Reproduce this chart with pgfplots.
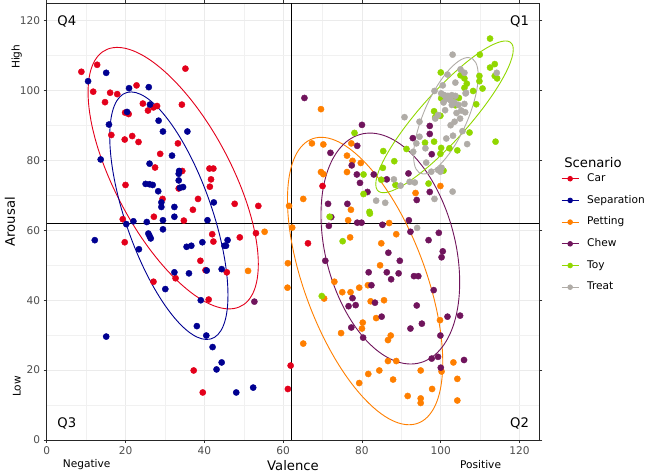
\documentclass[border=0pt]{standalone}
\usepackage{fontspec}
\setmainfont{DejaVu Sans}
\usepackage{pgfplots}
\pgfplotsset{compat=1.18}
\definecolor{carred}{RGB}{227,0,27}
\definecolor{sepblue}{RGB}{0,0,145}
\definecolor{petorange}{RGB}{255,127,0}
\definecolor{chewpurple}{RGB}{112,20,92}
\definecolor{toygreen}{RGB}{145,215,0}
\definecolor{treatgray}{RGB}{176,172,167}
\definecolor{gridgray}{RGB}{235,235,235}
\definecolor{ticktext}{RGB}{77,77,77}
\newcommand{\ellipseplot}[7]{\pgfplotsextra{\begin{pgfscope}\pgfsetstrokecolor{#1}\pgfsetlinewidth{0.9pt}\pgfpathellipse{\pgfplotspointaxisxy{#2}{#3}}{\pgfplotspointaxisdirectionxy{#4}{#5}}{\pgfplotspointaxisdirectionxy{#6}{#7}}\pgfusepath{stroke}\end{pgfscope}}}
\begin{document}
\begin{tikzpicture}
\useasboundingbox (-46.7pt,-33pt) rectangle (602.3pt,440pt);
\begin{axis}[
  scale only axis, width=492.6pt, height=436.7pt,
  xmin=0, xmax=125, ymin=0, ymax=125,
  xtick={0,20,...,120}, ytick={0,20,...,120},
  minor x tick num=1, minor y tick num=1,
  grid=both,
  major grid style={draw=gridgray, line width=0.7pt},
  minor grid style={draw=gridgray!70, line width=0.4pt},
  axis line style={draw=black!85, line width=0.6pt},
  tick style={draw=black!80, line width=0.6pt},
  tick align=outside, major tick length=3pt, minor tick length=0pt,
  /pgf/number format/assume math mode=true,
  ticklabel style={font=\fontsize{10.6}{12}\selectfont, text=ticktext},
  xlabel={Valence}, ylabel={Arousal},
  label style={font=\fontsize{13.2}{15}\selectfont},
  xlabel style={at={(axis description cs:0.5,-0.0595)}, anchor=center},
  ylabel style={at={(axis description cs:-0.0745,0.5)}, anchor=center},
  clip=false,
  legend cell align=left,
  legend style={at={(1.044,0.6125)}, anchor=north west, draw=none, fill=none,
    inner sep=0pt, row sep=9.7pt, font=\fontsize{10.6}{12}\selectfont,
    nodes={inner sep=1pt, text height=7.7pt, text depth=2.3pt},
    /tikz/every odd column/.append style={column sep=7pt}},
  mark size=3.1pt,
]
\addlegendimage{carred, line width=0.9pt, mark=*, mark size=2.3pt}
\addlegendentry{Car}
\addlegendimage{sepblue, line width=0.9pt, mark=*, mark size=2.3pt}
\addlegendentry{Separation}
\addlegendimage{petorange, line width=0.9pt, mark=*, mark size=2.3pt}
\addlegendentry{Petting}
\addlegendimage{chewpurple, line width=0.9pt, mark=*, mark size=2.3pt}
\addlegendentry{Chew}
\addlegendimage{toygreen, line width=0.9pt, mark=*, mark size=2.3pt}
\addlegendentry{Toy}
\addlegendimage{treatgray, line width=0.9pt, mark=*, mark size=2.3pt}
\addlegendentry{Treat}

\addplot[black, line width=1pt, forget plot] coordinates {(62,0) (62,125)};
\addplot[black, line width=1pt, forget plot] coordinates {(0,62) (125,62)};

% Car
\addplot[only marks, mark=*, carred, forget plot] coordinates {
(8.8,105.4) (12.8,107.4) (11.8,99.7) (16.1,99.4) (17.9,99.0) (14.8,96.7) (22.8,101.5) (35.2,106.3)
(24.4,96.3) (25.7,94.3) (27.1,95.2) (28.0,95.6) (34.3,96.0) (19.9,93.7) (20.8,93.3) (16.4,87.3)
(21.7,87.0) (19.8,86.0) (23.3,85.3) (33.3,84.9) (28.8,81.9) (27.5,78.0) (41.3,77.7) (42.3,77.7)
(34.4,77.0) (41.7,74.6) (41.4,72.5) (20.0,73.0) (33.5,72.0) (29.4,69.0) (38.4,69.0) (47.7,67.6)
(53.7,67.0) (37.1,65.9) (27.2,63.9) (19.3,63.2) (34.8,62.8) (70.0,72.7) (19.8,56.6) (42.0,58.9)
(42.3,56.8) (49.0,58.0) (53.1,59.2) (39.0,51.3) (40.3,48.6) (45.7,48.0) (27.1,45.3) (32.7,46.3)
(41.1,40.2) (37.3,19.9) (39.6,13.6) (61.9,21.3) (61.2,14.6) (66.3,56.3)
};
% Separation
\addplot[only marks, mark=*, sepblue, forget plot] coordinates {
(15.1,105.1) (10.5,102.7) (20.9,100.7) (25.9,101.0) (26.2,96.0) (20.4,93.9) (15.8,90.3) (28.4,91.4)
(29.5,88.3) (35.7,88.3) (31.8,81.4) (13.7,80.3) (26.1,79.1) (33.6,77.0) (33.5,76.2) (33.5,74.3)
(25.1,73.3) (26.1,73.2) (26.9,73.0) (33.8,72.2) (34.6,72.4) (28.3,71.2) (29.1,68.0) (29.1,66.7)
(32.4,66.7) (42.4,68.0) (32.4,63.9) (25.4,62.4) (29.5,62.9) (40.8,62.9) (22.0,62.6) (20.2,61.8)
(29.5,60.3) (12.2,57.2) (25.8,59.1) (26.1,58.4) (26.4,57.7) (23.4,54.6) (35.5,55.3) (36.7,55.6)
(39.5,56.6) (45.1,55.6) (45.5,55.6) (45.9,57.2) (32.4,48.0) (36.1,47.7) (40.6,48.5) (44.4,48.9)
(30.1,43.2) (39.1,40.0) (15.1,29.6) (38.1,32.6) (40.5,29.9) (42.1,26.6) (44.4,22.2) (43.1,20.2)
(48.1,13.6) (52.4,15.0)
};
% Petting
\addplot[only marks, mark=*, petorange, forget plot] coordinates {
(69.6,94.7) (67.3,84.9) (70.2,84.6) (77.3,84.9) (76.2,81.4) (77.6,79.9) (79.7,79.3) (69.6,76.7)
(70.2,76.1) (76.2,76.7) (65.1,69.0) (77.2,65.9) (61.5,67.0) (93.6,70.7) (99.9,72.7) (76.5,62.9)
(86.9,62.1) (62.3,60.8) (88.7,58.9) (77.0,58.0) (84.9,56.3) (61.2,50.6) (73.0,45.3) (84.6,50.0)
(61.1,43.6) (75.0,42.3) (77.1,42.3) (79.3,43.6) (81.5,44.3) (70.4,40.5) (82.2,39.7) (85.6,40.0)
(83.6,34.9) (80.2,33.6) (80.0,31.9) (74.7,30.6) (99.8,34.3) (87.3,29.9) (86.6,28.6) (65.1,27.6)
(86.6,22.6) (88.7,22.6) (84.4,19.9) (94.9,19.9) (81.6,18.9) (87.9,17.3) (100.2,19.6) (103.2,22.2)
(104.2,17.5) (79.3,16.3) (97.8,14.6) (91.6,12.6) (94.9,11.9) (94.9,10.6) (104.2,11.3) (55.3,59.6)
(51.1,48.4)
};
% Chew
\addplot[only marks, mark=*, chewpurple, forget plot] coordinates {
(65.4,97.9) (80.0,90.2) (78.8,84.2) (72.0,82.2) (97.2,89.9) (97.2,87.6) (92.9,86.4) (97.7,81.8)
(77.4,78.6) (78.7,76.0) (83.0,76.0) (79.5,73.6) (86.3,74.6) (91.8,76.3) (81.4,71.0) (97.2,71.0)
(93.9,68.7) (71.4,67.6) (76.3,67.6) (72.2,63.8) (78.8,62.2) (79.9,62.2) (85.2,61.6) (91.9,62.9)
(71.6,61.3) (92.3,59.6) (99.5,59.3) (96.9,57.2) (86.7,53.6) (100.5,54.0) (100.2,52.3) (70.7,51.3)
(89.6,51.3) (81.7,48.0) (86.3,48.0) (89.3,47.7) (87.4,46.0) (93.2,46.9) (94.3,46.9) (82.4,44.3)
(98.2,42.9) (77.6,40.6) (76.6,38.3) (78.4,38.6) (83.3,39.3) (93.9,38.5) (85.0,35.3) (101.7,35.3)
(104.9,35.6) (77.3,32.2) (80.3,29.3) (92.3,31.9) (95.2,33.3) (99.9,29.9) (97.7,23.3) (99.3,23.8)
(100.0,20.7) (105.9,22.9) (52.7,39.6)
};
% Toy
\addplot[only marks, mark=*, toygreen, forget plot] coordinates {
(112.5,114.9) (109.9,110.3) (113.7,107.6) (112.5,106.6) (113.7,104.2) (114.3,103.5) (100.0,105.2)
(105.0,104.4) (106.0,103.5) (109.8,104.2) (109.8,102.7) (106.6,102.0) (106.0,100.8) (108.2,99.9)
(110.6,100.6) (100.1,97.8) (103.7,98.2) (104.6,97.9) (103.7,95.8) (109.0,96.1) (98.3,94.1) (99.9,92.8)
(98.6,92.4) (107.3,88.0) (113.9,85.4) (98.3,85.4) (100.1,83.6) (96.0,85.1) (99.9,81.9) (104.2,82.9)
(102.2,83.5) (91.3,83.3) (85.4,82.7) (88.2,79.8) (85.3,77.9) (84.9,74.5) (88.5,73.0) (100.7,77.1)
(96.9,73.4) (78.1,87.9) (80.4,76.0) (80.4,70.4) (81.9,65.3) (82.0,64.8) (71.8,63.9) (75.1,56.9)
(69.8,41.2)
};
% Treat
\addplot[only marks, mark=*, treatgray, forget plot] coordinates {
(103.0,110.3) (101.7,104.6) (105.0,106.1) (106.0,105.1) (103.7,102.3) (100.5,101.5) (98.4,99.9)
(106.3,99.2) (100.1,99.2) (100.9,98.7) (101.8,98.5) (102.8,98.7) (103.7,98.5) (101.4,97.6)
(102.5,97.2) (103.5,96.6) (100.7,96.6) (102.8,95.9) (104.5,95.9) (106.0,96.2) (105.2,94.3)
(106.2,93.8) (104.0,93.6) (104.9,92.0) (103.5,91.1) (102.5,90.1) (101.1,94.4) (99.3,93.0)
(98.6,92.0) (90.8,92.4) (94.6,91.1) (101.4,86.3) (103.1,87.1) (105.5,88.4) (106.7,84.7) (94.6,86.8)
(96.1,83.5) (93.8,84.9) (93.0,82.5) (96.3,79.4) (99.3,77.3) (100.2,77.9) (99.9,76.8) (97.6,76.8)
(103.0,71.1) (98.4,69.0) (88.1,74.6) (89.8,72.8) (92.1,73.9) (93.4,73.7) (83.6,68.5) (85.9,67.9)
(94.0,60.7) (114.2,105.1) (106.4,99.4)
};

\ellipseplot{carred}{32.1}{74.95}{21.6}{-24.6}{0}{28.2}
\ellipseplot{sepblue}{31.0}{64.2}{15.0}{-22.7}{0}{27.2}
\ellipseplot{petorange}{80.8}{45.5}{19.7}{-23.3}{0}{33.9}
\ellipseplot{chewpurple}{87.2}{54.8}{17.6}{-9.66}{0}{31.6}
\ellipseplot{toygreen}{100.95}{92.5}{17.45}{19.28}{0}{10.0}
\ellipseplot{treatgray}{101.3}{92.8}{8.2}{11.46}{0}{12.1}

\node[font=\fontsize{13.2}{15}\selectfont] at (axis cs:5.1,119.7) {Q4};
\node[font=\fontsize{13.2}{15}\selectfont] at (axis cs:120.0,119.7) {Q1};
\node[font=\fontsize{13.2}{15}\selectfont] at (axis cs:5.1,4.8) {Q3};
\node[font=\fontsize{13.2}{15}\selectfont] at (axis cs:120.0,4.8) {Q2};
\node[font=\fontsize{10.6}{12}\selectfont, rotate=90] at (axis cs:-7.6,109.7) {High};
\node[font=\fontsize{10.6}{12}\selectfont, rotate=90] at (axis cs:-7.6,15.3) {Low};
\node[font=\fontsize{10.6}{12}\selectfont] at (axis cs:10.15,-7.16) {Negative};
\node[font=\fontsize{10.6}{12}\selectfont] at (axis cs:110.1,-7.16) {Positive};
\node[font=\fontsize{13.2}{15}\selectfont, anchor=west] at (rel axis cs:1.0435,0.635) {Scenario};
\end{axis}
\end{tikzpicture}
\end{document}
